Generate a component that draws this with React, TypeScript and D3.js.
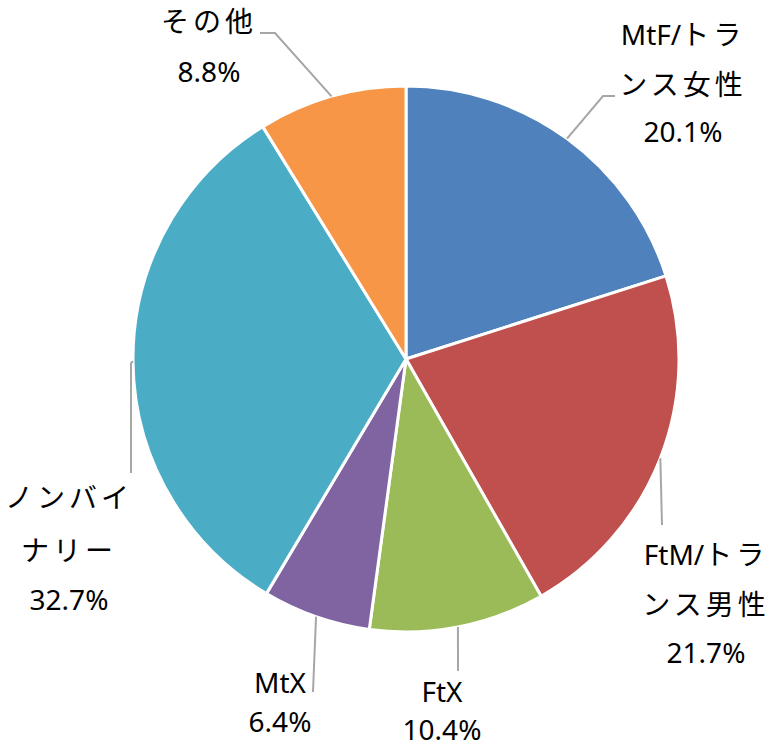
import React from 'react';
import * as d3 from 'd3';

const categories = ['MtF/トランス女性', 'FtM/トランス男性', 'FtX', 'MtX', 'ノンバイナリー', 'その他'];
const shares = [20.1, 21.7, 10.4, 6.4, 32.7, 8.8];
const colors = ['#4F81BD', '#C0504D', '#9BBB59', '#8064A2', '#4BACC6', '#F79646'];

// label layout: text lines, anchor x, baselines, leader line path after the arc point
const labelLayout = [
  { lines: ['MtF/トラ', 'ンス女性', '20.1%'], x: 683, ys: [45, 95, 142], leader: [[603, 96], [615, 96]] },
  { lines: ['FtM/トラ', 'ンス男性', '21.7%'], x: 706, ys: [565, 615, 663], leader: [[662, 525]] },
  { lines: ['FtX', '10.4%'], x: 442, ys: [702, 740], leader: [[458, 671]] },
  { lines: ['MtX', '6.4%'], x: 280, ys: [693, 732], leader: [[313, 692]] },
  { lines: ['ノンバイ', 'ナリー', '32.7%'], x: 69, ys: [508, 561, 610], leader: [[131, 363], [131, 473]] },
  { lines: ['その他', '8.8%'], x: 209, ys: [32, 82], leader: [[275, 33], [260, 33]] },
];

const W = 774;
const H = 748;
const cx = 406;
const cy = 359;
const R = 273;

// split a line into ascii / non-ascii runs so only the Japanese gets extra spacing
function runs(t: string) {
  const out: { s: string; jp: boolean }[] = [];
  for (const ch of t) {
    const jp = /[^\x00-\x7f]/.test(ch);
    if (out.length && out[out.length - 1].jp === jp) out[out.length - 1].s += ch;
    else out.push({ s: ch, jp });
  }
  return out;
}

export default function App() {
  const data = categories.map((c, i) => ({ name: c, value: shares[i], color: colors[i] }));
  const pie = d3.pie<any>().value(d => d.value).sort(null);
  const arcs = pie(data);
  const arc = d3.arc<any>().innerRadius(0).outerRadius(R);
  const line = d3.line();

  return (
    <svg width={W} height={H} style={{ position: 'absolute', left: 0, top: 0, background: '#fff' }}>
      <g transform={`translate(${cx},${cy})`}>
        {arcs.map((a, i) => (
          <path key={i} d={arc(a) || ''} fill={a.data.color} stroke="#fff" strokeWidth={3} strokeLinejoin="round" />
        ))}
      </g>
      {arcs.map((a, i) => {
        const mid = (a.startAngle + a.endAngle) / 2;
        const p0: [number, number] = [cx + R * Math.sin(mid), cy - R * Math.cos(mid)];
        const pts = [p0, ...(labelLayout[i].leader as [number, number][])];
        return <path key={'l' + i} d={line(pts) || ''} fill="none" stroke="#A6A6A6" strokeWidth={2} />;
      })}
      {labelLayout.map((lab, i) => (
        <g key={'t' + i}>
          {lab.lines.map((t, j) => (
            <text
              key={j}
              x={lab.x}
              y={lab.ys[j]}
              textAnchor="middle"
              fontFamily="'Noto Sans', 'Noto Sans CJK JP', sans-serif"
              fontSize={28}
              fill="#000"
            >
              {runs(t).map((r, k) => (
                <tspan key={k} letterSpacing={r.jp ? 4 : 0}>{r.s}</tspan>
              ))}
            </text>
          ))}
        </g>
      ))}
    </svg>
  );
}
